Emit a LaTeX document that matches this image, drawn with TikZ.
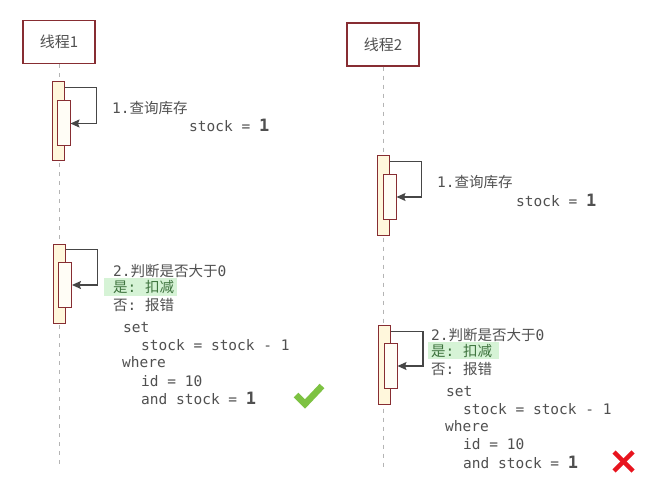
\documentclass[tikz,border=0pt]{standalone}
\usepackage{fontspec}
\setmonofont{DejaVu Sans Mono}
\newfontfamily\cjk{Noto Sans CJK SC}
\usepackage{xcolor}
\usetikzlibrary{arrows.meta, positioning, calc}
\definecolor{LockRed}{RGB}{135, 45, 50}
\definecolor{LockCream}{RGB}{255, 247, 220}
\definecolor{LockPaper}{RGB}{255, 253, 246}
\definecolor{LockGray}{RGB}{80, 80, 80}
\definecolor{LockDark}{RGB}{70, 70, 70}
\definecolor{LockLine}{RGB}{180, 180, 180}
\definecolor{LockMint}{RGB}{214, 243, 214}
\definecolor{LockGreen}{RGB}{62, 115, 62}
\definecolor{LockOk}{RGB}{125, 194, 66}
\definecolor{LockBad}{RGB}{232, 20, 30}
\newcommand{\zh}[1]{{\cjk #1}}
\newcommand{\bigone}{{\fontsize{17}{18}\selectfont\bfseries 1}}

\tikzset{
  thread/.style={draw=LockRed, line width=1.1pt, minimum width=72pt, minimum height=43pt,
    inner sep=0pt, text=LockGray, font=\cjk\fontsize{15}{16}\selectfont},
  lifeline/.style={LockLine, line width=1pt, dash pattern=on 4pt off 5pt},
  actouter/.style={draw=LockRed, fill=LockCream, line width=1pt, inner sep=0pt,
    minimum width=12pt, minimum height=79pt},
  actinner/.style={draw=LockRed, fill=LockPaper, line width=1pt, inner sep=0pt,
    minimum width=13pt, minimum height=45pt},
  selfcall/.style={LockDark, line width=1.3pt, -{Stealth[length=9pt, width=8pt, inset=1.5pt]}},
  msg/.style={anchor=base west, inner sep=0pt, text=LockGray,
    font=\ttfamily\fontsize{14.5}{17}\selectfont},
}

\begin{document}
\begin{tikzpicture}[x=1pt,y=-1pt]
  \path[use as bounding box] (0,0) rectangle (650,489);
  \fill[white] (0,0) rectangle (650,489);

  % threads and lifelines
  \node[thread] (t1) at (59,42) {线程1};
  \node[thread] (t2) at (383,44.5) {线程2};
  \coordinate (t1end) at (59,468);
  \coordinate (t2end) at (383,470);
  \draw[lifeline] (t1.south) -- (t1end);
  \draw[lifeline] (t2.south) -- (t2end);

  % thread 1: query
  \node[actouter] (q1) at (58,121.5) {};
  \node[actinner] (q1i) at (63.5,123.5) {};
  \draw[selfcall] ([yshift=-6pt]q1.north east) -- ++(32,0) |- (q1i.east);
  \node[msg] (q1a) at (112,114) {1.\zh{查询库存}};
  \node[msg] (q1b) at (189,132) {stock = \bigone};

  % thread 2: query
  \node[actouter] (q2) at (383,195.5) {};
  \node[actinner] (q2i) at (389.5,197) {};
  \draw[selfcall] ([yshift=-6pt]q2.north east) -- ++(32,0) |- (q2i.east);
  \node[msg] (q2a) at (437,188) {1.\zh{查询库存}};
  \node[msg] (q2b) at (516,206) {stock = \bigone};

  % thread 1: update
  \node[actouter] (u1) at (59,283.5) {};
  \node[actinner] (u1i) at (65,285) {};
  \draw[selfcall] ([yshift=-6pt]u1.north east) -- ++(32,0) |- (u1i.east);
  \fill[LockMint] (104,278) rectangle (177,296);
  \node[msg] (u1a) at (113,276) {2.\zh{判断是否大于}0};
  \node[msg, text=LockGreen] (u1b) at (113,292) {\zh{是}: \zh{扣减}};
  \node[msg] (u1c) at (113,310) {\zh{否}: \zh{报错}};
  \node[msg] (u1d) at (123,332) {set};
  \node[msg] (u1e) at (141,350) {stock = stock - 1};
  \node[msg] (u1f) at (122,367) {where};
  \node[msg] (u1g) at (141,386) {id = 10};
  \node[msg] (u1h) at (141,404) {and stock = \bigone};
  \draw[LockOk, line width=6.5pt] (296,395) -- (305,404) -- (322,386);

  % thread 2: update
  \node[actouter] (u2) at (384.5,364.5) {};
  \node[actinner] (u2i) at (390.5,366) {};
  \draw[selfcall] ([yshift=-7pt]u2.north east) -- ++(32,0) |- (u2i.east);
  \fill[LockMint] (428,342) rectangle (499,359);
  \node[msg] (u2a) at (431,340) {2.\zh{判断是否大于}0};
  \node[msg, text=LockGreen] (u2b) at (431,356) {\zh{是}: \zh{扣减}};
  \node[msg] (u2c) at (431,374) {\zh{否}: \zh{报错}};
  \node[msg] (u2d) at (446,396) {set};
  \node[msg] (u2e) at (463,414) {stock = stock - 1};
  \node[msg] (u2f) at (445,431) {where};
  \node[msg] (u2g) at (463,449) {id = 10};
  \node[msg] (u2h) at (463,468) {and stock = \bigone};
  \draw[LockBad, line width=4.5pt] (614,452) -- (633,471);
  \draw[LockBad, line width=4.5pt] (633,452) -- (614,471);
\end{tikzpicture}
\end{document}
